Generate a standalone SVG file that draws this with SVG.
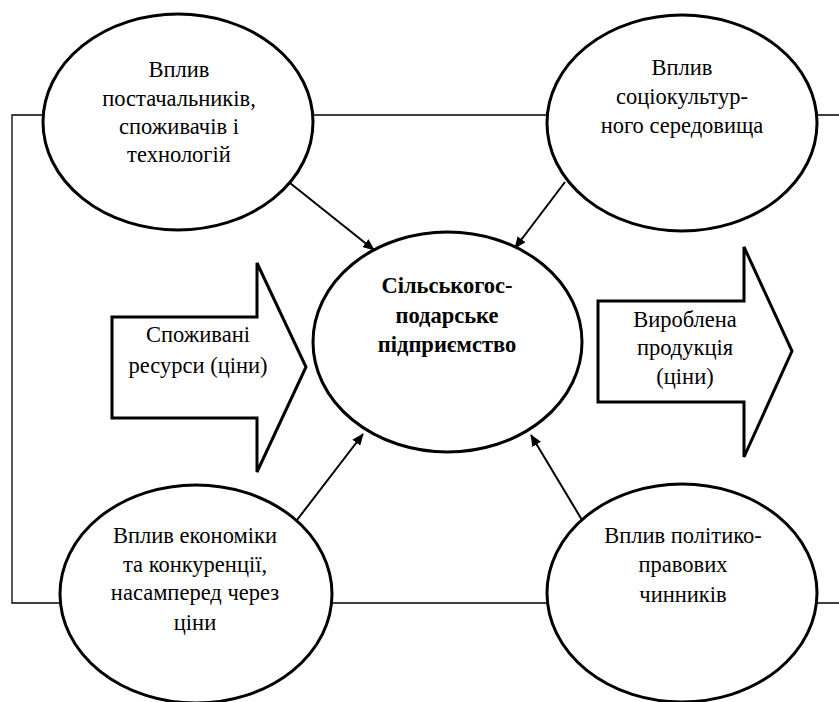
<svg xmlns="http://www.w3.org/2000/svg" width="839" height="702" viewBox="0 0 839 702">
<style>
.frame{fill:none;stroke:#000;stroke-width:1.3}
.node{fill:#fff;stroke:#000;stroke-width:3}
.conn{stroke:#000;stroke-width:2;fill:none;marker-end:url(#ah)}
.lbl{font-family:'Liberation Serif','DejaVu Serif',serif;font-size:22.5px;fill:#000;text-anchor:middle}
.b{font-weight:bold;font-size:22.5px}
</style>
<defs>
<marker id="ah" viewBox="0 0 12 10" refX="11" refY="5" markerWidth="12" markerHeight="10" markerUnits="userSpaceOnUse" orient="auto">
<path d="M0,0 L12,5 L0,10 Z" fill="#000"/>
</marker>
</defs>
<rect width="839" height="702" fill="#fff"/>
<g id="frame">
<path class="frame" d="M839,115 H12 V603 H839"/>
</g>
<g id="connectors">
<line class="conn" x1="290" y1="183" x2="374" y2="250"/>
<line class="conn" x1="565" y1="182" x2="515" y2="248"/>
<line class="conn" x1="297" y1="520" x2="363" y2="434"/>
<line class="conn" x1="582" y1="520" x2="531" y2="435"/>
</g>
<g font-family="'Liberation Serif', 'DejaVu Serif', serif" font-size="22.5" text-anchor="middle" fill="#000">
<g id="node-suppliers">
<ellipse class="node" cx="178" cy="122" rx="135" ry="108"/>
<text class="lbl" x="179" y="77">Вплив</text>
<text class="lbl" x="179" y="106">постачальників,</text>
<text class="lbl" x="179" y="134">споживачів і</text>
<text class="lbl" x="179" y="162">технологій</text>
</g>
<g id="node-sociocultural">
<ellipse class="node" cx="682" cy="123" rx="135" ry="108"/>
<text class="lbl" x="682" y="75">Вплив</text>
<text class="lbl" x="682" y="104">соціокультур-</text>
<text class="lbl" x="682" y="133">ного середовища</text>
</g>
<g id="node-enterprise">
<ellipse class="node" cx="447.5" cy="342" rx="134.5" ry="110"/>
<text class="lbl b" font-weight="bold" x="447" y="293">Сільськогос-</text>
<text class="lbl b" font-weight="bold" x="447" y="323">подарське</text>
<text class="lbl b" font-weight="bold" x="447" y="352">підприємство</text>
</g>
<g id="node-economy">
<ellipse class="node" cx="196" cy="594" rx="136" ry="109"/>
<text class="lbl" x="195" y="543">Вплив економіки</text>
<text class="lbl" x="195" y="572">та конкуренції,</text>
<text class="lbl" x="195" y="600">насамперед через</text>
<text class="lbl" x="195" y="630">ціни</text>
</g>
<g id="node-political">
<ellipse class="node" cx="682" cy="593" rx="135" ry="109"/>
<text class="lbl" x="683" y="543">Вплив політико-</text>
<text class="lbl" x="683" y="572">правових</text>
<text class="lbl" x="683" y="602">чинників</text>
</g>
<g id="node-resources">
<path class="node" d="M112,317 H257 V263 L306,367 L257,472 V418 H112 Z"/>
<text class="lbl" x="198" y="342">Споживані</text>
<text class="lbl" x="198" y="373">ресурси (ціни)</text>
</g>
<g id="node-products">
<path class="node" d="M598,301 H744 V247 L792,351 L744,457 V402 H598 Z"/>
<text class="lbl" x="685" y="327">Вироблена</text>
<text class="lbl" x="685" y="355">продукція</text>
<text class="lbl" x="685" y="384">(ціни)</text>
</g>
</g>
</svg>
